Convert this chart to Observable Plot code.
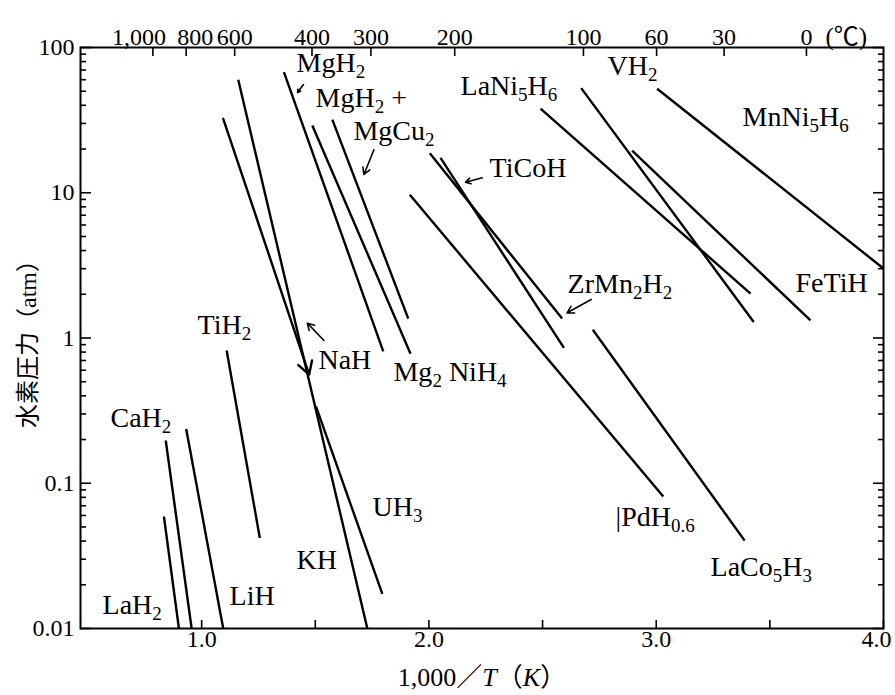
<!DOCTYPE html>
<html><head><meta charset="utf-8">
<script src="https://cdn.jsdelivr.net/npm/d3@7"></script>
<script src="https://cdn.jsdelivr.net/npm/@observablehq/plot@0.6"></script>
<style>body{margin:0;background:#fff;}</style>
</head><body><div id="chart"></div>
<script>
// ---- data ----
const hydrides = ["LaH2","CaH2","LiH","TiH2","NaH","KH","UH3","MgH2","Mg2NiH4","MgH2+MgCu2","ZrMn2H2","TiCoH","PdH0.6","LaCo5H3","LaNi5H6","VH2","FeTiH","MnNi5H6"];
const xStart = [0.834, 0.842, 0.932, 1.110, 1.095, 1.161, 1.503, 1.362, 1.487, 1.575, 2.004, 2.051, 1.916, 2.721, 2.491, 2.670, 2.894, 3.004];
const pStart = [0.059, 0.197, 0.236, 0.82, 32.3, 59.9, 0.338, 67.6, 29.0, 31.9, 18.7, 17.4, 9.68, 1.14, 38.0, 52.5, 19.5, 52.0];
const xEnd   = [0.900, 0.956, 1.095, 1.256, 1.473, 1.729, 1.795, 1.799, 1.919, 1.909, 2.586, 2.594, 3.031, 3.389, 3.415, 3.429, 3.679, 4.000];
const pEnd   = [0.01, 0.01, 0.01, 0.042, 0.56, 0.01, 0.0173, 0.81, 0.78, 1.36, 1.36, 0.856, 0.081, 0.0403, 2.02, 1.29, 1.32, 3.01];
const withHead = [false,false,false,false,true,false,false,false,false,false,false,false,false,false,false,false,false,false];

// "_{..}" marks a subscript
const labelText = ["MgH_{2}","MgH_{2} +","MgCu_{2}","TiCoH","LaNi_{5}H_{6}","VH_{2}","MnNi_{5}H_{6}","ZrMn_{2}H_{2}","FeTiH","TiH_{2}","NaH","Mg_{2} NiH_{4}","CaH_{2}","UH_{3}","|PdH_{0.6}","KH","LaCo_{5}H_{3}","LiH","LaH_{2}"];
const labelX = [1.4175, 1.501, 1.668, 2.267, 2.139, 2.786, 3.380, 2.610, 3.613, 0.982, 1.514, 1.844, 0.599, 1.752, 2.821, 1.4175, 3.239, 1.123, 0.564];
const labelP = [77.6, 44.6, 26.4, 14.7, 53.9, 74.0, 33.0, 2.335, 2.372, 1.219, 0.70, 0.579, 0.279, 0.0681, 0.0581, 0.0294, 0.0263, 0.0166, 0.0144];

// annotation arrows: tail -> tip
const arrowX1 = [1.448, 1.758, 1.538, 2.2345, 2.714];
const arrowP1 = [55.6, 19.75, 0.961, 12.67, 1.84];
const arrowX2 = [1.422, 1.714, 1.465, 2.161, 2.608];
const arrowP2 = [49.0, 13.36, 1.265, 11.82, 1.491];

const yMajor = [0.01, 0.1, 1, 10, 100];
const yMinor = [0.02,0.03,0.04,0.05,0.06,0.07,0.08,0.09, 0.2,0.3,0.4,0.5,0.6,0.7,0.8,0.9, 2,3,4,5,6,7,8,9, 20,30,40,50,60,70,80,90];
const xMajor = [1.0, 2.0, 3.0, 4.0];
const xMinor = [1.5, 2.5, 3.5];
const celsius = [1000, 800, 600, 400, 300, 200, 100, 60, 30, 0];
const celsiusLabels = ["1,000","800","600","400","300","200","100","60","30","0"];

// ---- chart ----
const idx = hydrides.map((_, i) => i);
const topTicks = celsius.map(c => 1000 / (c + 273.15));
const font = "'Liberation Serif', 'Noto Sans CJK JP', serif";
const tickFont = {fontFamily: font, fontSize: 24, fill: "black"};

const chart = Plot.plot({
  width: 895, height: 695,
  marginLeft: 80, marginRight: 12, marginTop: 47, marginBottom: 67,
  x: {domain: [0.467, 4.0]},
  y: {type: "log", domain: [0.01, 100]},
  style: {fontFamily: font, background: "white", color: "black"},
  marks: [
    Plot.axisY({anchor: "left", ticks: yMajor, tickSize: -11, tickPadding: 17, tickFormat: d => String(d), fontSize: 24, fontFamily: font, label: null, strokeWidth: 1.6}),
    Plot.axisY({anchor: "left", ticks: yMinor, tickSize: -6, fill: "none", label: null, strokeWidth: 1.6}),
    Plot.axisY({anchor: "right", ticks: yMajor, tickSize: -11, fill: "none", label: null, strokeWidth: 1.6}),
    Plot.axisY({anchor: "right", ticks: yMinor, tickSize: -6, fill: "none", label: null, strokeWidth: 1.6}),
    Plot.axisX({anchor: "bottom", ticks: [...xMajor, ...xMinor], tickSize: -8, fill: "none", label: null, strokeWidth: 1.6}),
    Plot.axisX({anchor: "top", ticks: topTicks, tickSize: -8, fill: "none", label: null, strokeWidth: 1.6}),
    Plot.frame({stroke: "black", strokeWidth: 2}),
    // bottom tick labels
    Plot.text(xMajor.slice(0, 3), {x: d => d, frameAnchor: "bottom", dy: 18, text: d => d.toFixed(1), ...tickFont}),
    Plot.text(xMajor.slice(3), {x: d => d, frameAnchor: "bottom", dy: 18, dx: -7, text: d => d.toFixed(1), ...tickFont}),
    // top (°C) tick labels
    Plot.text([0], {x: i => topTicks[i], frameAnchor: "top", dy: -20, dx: -14, text: i => celsiusLabels[i], ...tickFont}),
    Plot.text([1], {x: i => topTicks[i], frameAnchor: "top", dy: -20, dx: 9, text: i => celsiusLabels[i], ...tickFont}),
    Plot.text(d3.range(2, celsius.length), {x: i => topTicks[i], frameAnchor: "top", dy: -20, text: i => celsiusLabels[i], ...tickFont}),
    Plot.text(["(℃)"], {x: 1000 / 273.15, frameAnchor: "top", dy: -20, dx: 19, text: d => d, textAnchor: "start", fontSize: 25, fill: "black"}),
    // curves
    Plot.link(idx.filter(i => !withHead[i]), {x1: i => xStart[i], y1: i => pStart[i], x2: i => xEnd[i], y2: i => pEnd[i], stroke: "black", strokeWidth: 2.4}),
    Plot.arrow(idx.filter(i => withHead[i]), {x1: i => xStart[i], y1: i => pStart[i], x2: i => xEnd[i], y2: i => pEnd[i], stroke: "black", strokeWidth: 2.4, headLength: 9, bend: false}),
    Plot.arrow(arrowX1.map((_, i) => i), {x1: i => arrowX1[i], y1: i => arrowP1[i], x2: i => arrowX2[i], y2: i => arrowP2[i], stroke: "black", strokeWidth: 1.6, headLength: 7, bend: false}),
    Plot.text(labelText.map((_, i) => i), {x: i => labelX[i], y: i => labelP[i], text: i => labelText[i], textAnchor: "start", fontSize: 28, fill: "black", className: "species"}),
    // axis titles
    Plot.text(["水素圧力（atm）"], {frameAnchor: "left", dx: -52, rotate: -90, textAnchor: "middle", text: d => d, fontSize: 24, fill: "black"}),
    Plot.text(["1,000／T（K）"], {frameAnchor: "bottom", dy: 57, dx: 0, text: d => d, fontSize: 26, fill: "black", className: "xlab"})
  ]
});
document.getElementById("chart").appendChild(chart);

// subscripts in the species labels
d3.select(chart).selectAll(".species text").each(function () {
  const s = this.textContent;
  const t = d3.select(this).text(null);
  const parts = s.split(/(_\{[^}]*\})/).filter(p => p.length);
  let shifted = false;
  parts.forEach(p => {
    if (p.startsWith("_{")) {
      t.append("tspan").attr("font-size", 19).attr("dy", shifted ? 0 : 6).text(p.slice(2, -1));
      shifted = true;
    } else {
      t.append("tspan").attr("dy", shifted ? -6 : 0).text(p);
      shifted = false;
    }
  });
});

// italic T and K in the x label
const xl = d3.select(chart).select(".xlab text");
if (!xl.empty()) {
  xl.text(null);
  [["1,000／", "normal"], ["T", "italic"], ["（", "normal"], ["K", "italic"], ["）", "normal"]].forEach(([s, st]) => xl.append("tspan").attr("font-style", st).text(s));
}
</script></body></html>
